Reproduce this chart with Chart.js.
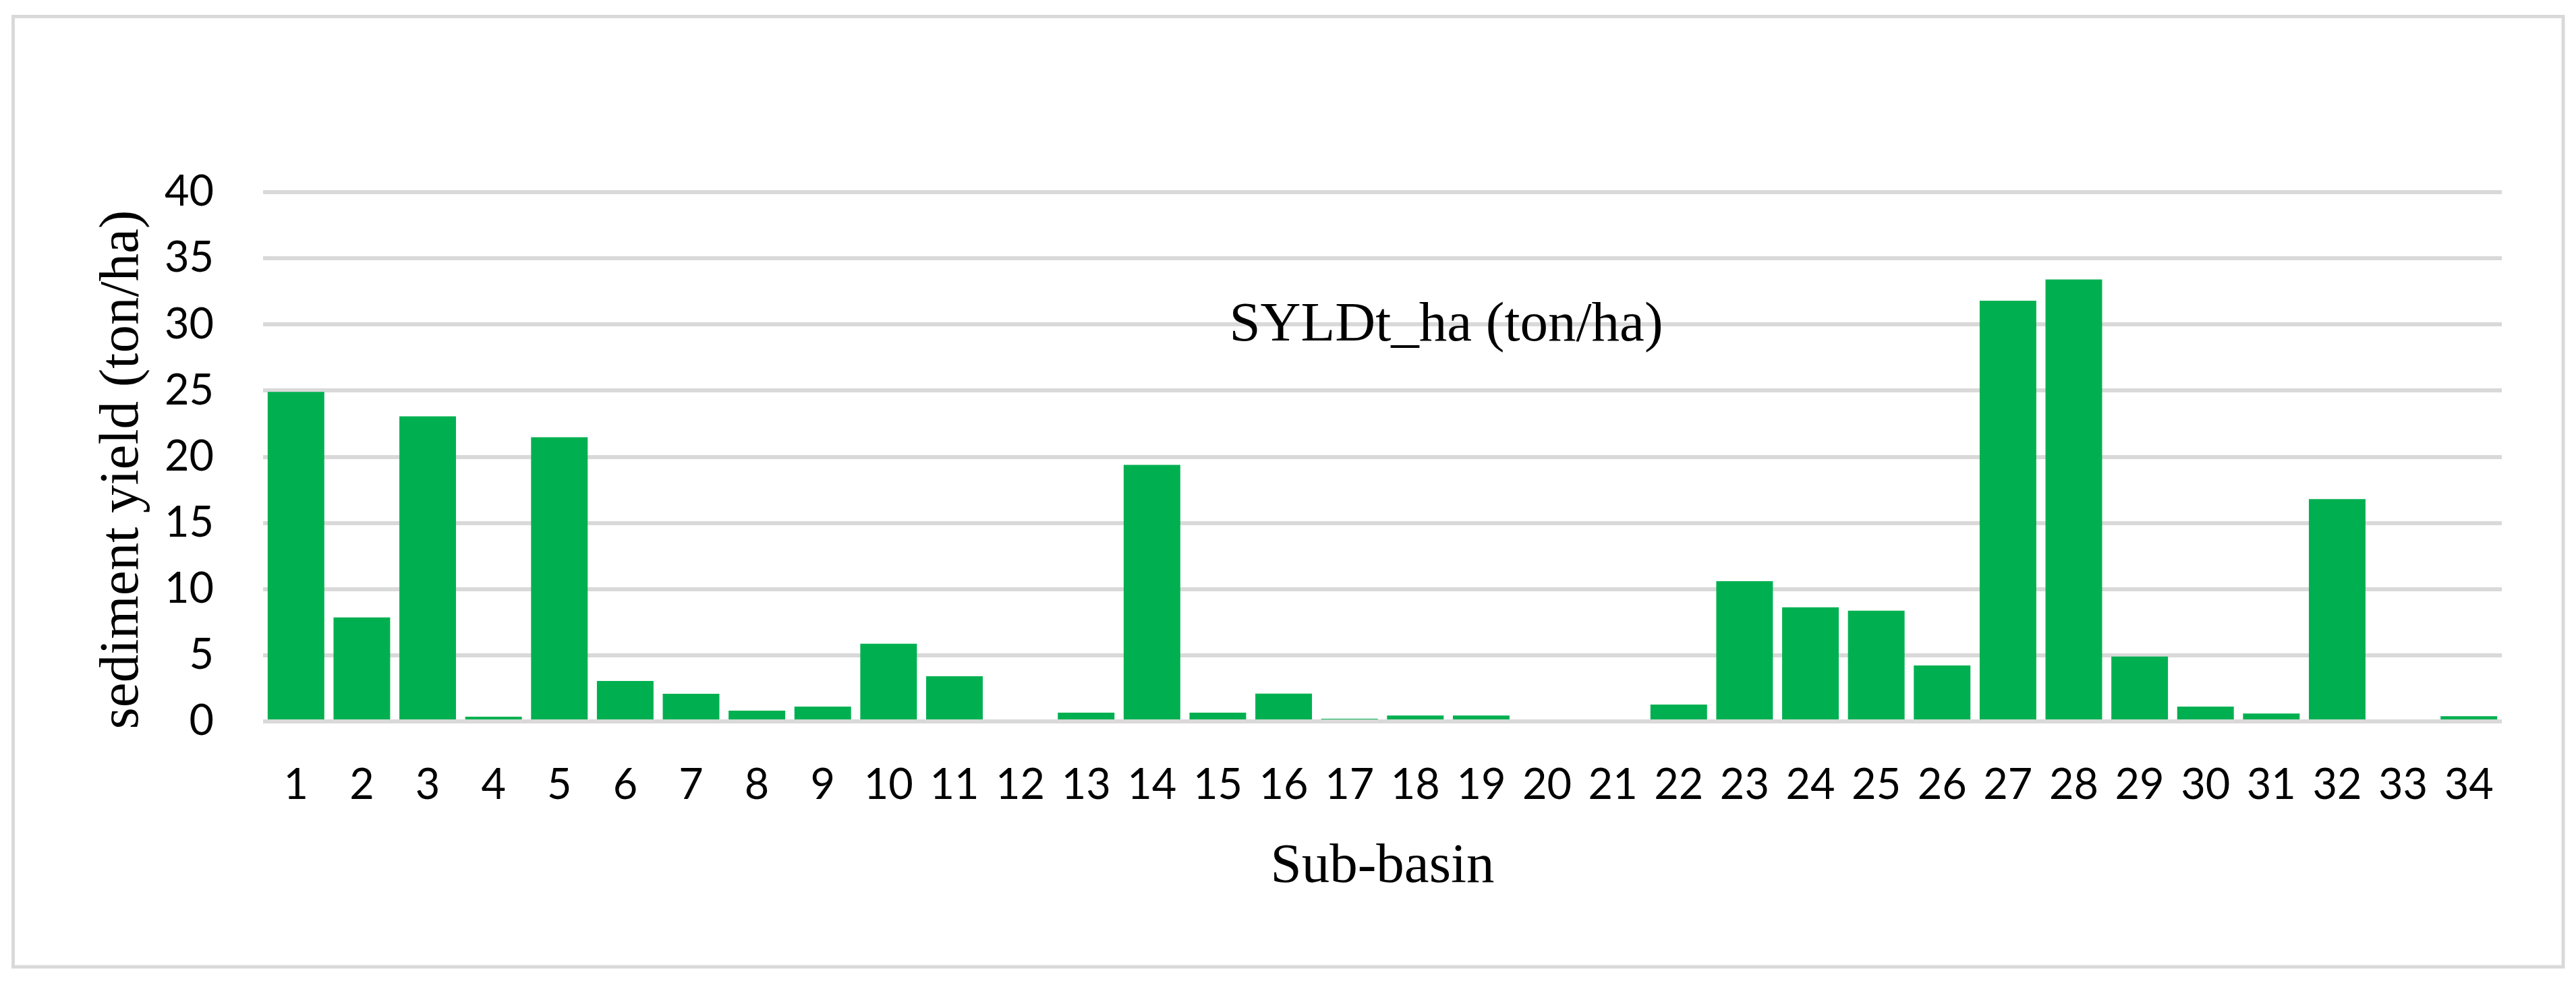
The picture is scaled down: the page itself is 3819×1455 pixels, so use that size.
<!DOCTYPE html>
<html>
<head>
<meta charset="utf-8">
<script src="https://cdn.jsdelivr.net/npm/chart.js@4"></script>
<style>
  html, body { margin: 0; padding: 0; background: #ffffff; }
  canvas { display: block; }
</style>
</head>
<body>
<canvas id="c" width="3819" height="1455"></canvas>
<script>
const subBasins = ['1','2','3','4','5','6','7','8','9','10','11','12','13','14','15','16','17',
  '18','19','20','21','22','23','24','25','26','27','28','29','30','31','32','33','34'];
const syldValues = [24.9, 7.86, 23.06, 0.36, 21.48, 3.06, 2.09, 0.82, 1.12, 5.87, 3.42, 0,
  0.66, 19.39, 0.66, 2.1, 0.2, 0.45, 0.45, 0, 0, 1.28, 10.6, 8.62, 8.37, 4.23, 31.8, 33.4,
  4.9, 1.12, 0.6, 16.8, 0, 0.4];
const seriesName = 'SYLDt_ha (ton/ha)';
const xTitle = 'Sub-basin';
const yTitle = 'sediment yield (ton/ha)';
const yMin = 0, yMax = 40, yStep = 5;

const frameAndLabel = {
  id: 'frameAndLabel',
  beforeDraw(chart) {
    const ctx = chart.ctx;
    ctx.save();
    ctx.fillStyle = '#ffffff';
    ctx.fillRect(0, 0, chart.width, chart.height);
    ctx.strokeStyle = '#d9d9d9';
    ctx.lineWidth = 5;
    ctx.strokeRect(19.5, 24.5, 3800 - 19.5, 1434 - 24.5);
    ctx.restore();
  },
  afterDatasetsDraw(chart) {
    const ctx = chart.ctx;
    ctx.save();
    ctx.fillStyle = '#000000';
    ctx.font = '83px "Liberation Serif", "Times New Roman", serif';
    ctx.textAlign = 'center';
    ctx.textBaseline = 'alphabetic';
    ctx.fillText(seriesName, 2144, 505);
    // y-axis title, centred a little below the middle of the plot as in the original
    const yScale = chart.scales.y;
    ctx.translate(182, (yScale.top + yScale.bottom) / 2 + 19);
    ctx.rotate(-Math.PI / 2);
    ctx.textBaseline = 'middle';
    ctx.fillText(yTitle, 0, 0);
    ctx.restore();
  }
};

new Chart(document.getElementById('c'), {
  type: 'bar',
  data: {
    labels: subBasins,
    datasets: [{
      label: seriesName,
      data: syldValues,
      backgroundColor: '#00b050',
      borderWidth: 0,
      barPercentage: 0.86,
      categoryPercentage: 1.0
    }]
  },
  options: {
    responsive: false,
    animation: false,
    devicePixelRatio: 1,
    layout: { padding: { top: 285, right: 110, left: 0, bottom: 0 } },
    plugins: {
      legend: { display: false },
      title: { display: false },
      tooltip: { enabled: false }
    },
    scales: {
      x: {
        grid: { display: false, drawTicks: false },
        border: { display: false },
        ticks: {
          color: '#000000',
          font: { family: 'Lato', size: 63 },
          padding: 57,
          maxRotation: 0,
          autoSkip: false
        },
        title: {
          display: true,
          text: xTitle,
          color: '#000000',
          font: { family: '"Liberation Serif", "Times New Roman", serif', size: 83 },
          padding: { top: 0, bottom: 119 }
        },
        afterFit(scale) { scale.height = 385; }
      },
      y: {
        min: yMin,
        max: yMax,
        grid: { color: '#d9d9d9', lineWidth: 6, drawTicks: false },
        border: { display: false },
        ticks: {
          stepSize: yStep,
          color: '#000000',
          font: { family: 'Lato', size: 63 },
          padding: 73
        },
        title: { display: false },
        afterFit(scale) { scale.width = 390; }
      }
    }
  },
  plugins: [frameAndLabel]
});
</script>
</body>
</html>
